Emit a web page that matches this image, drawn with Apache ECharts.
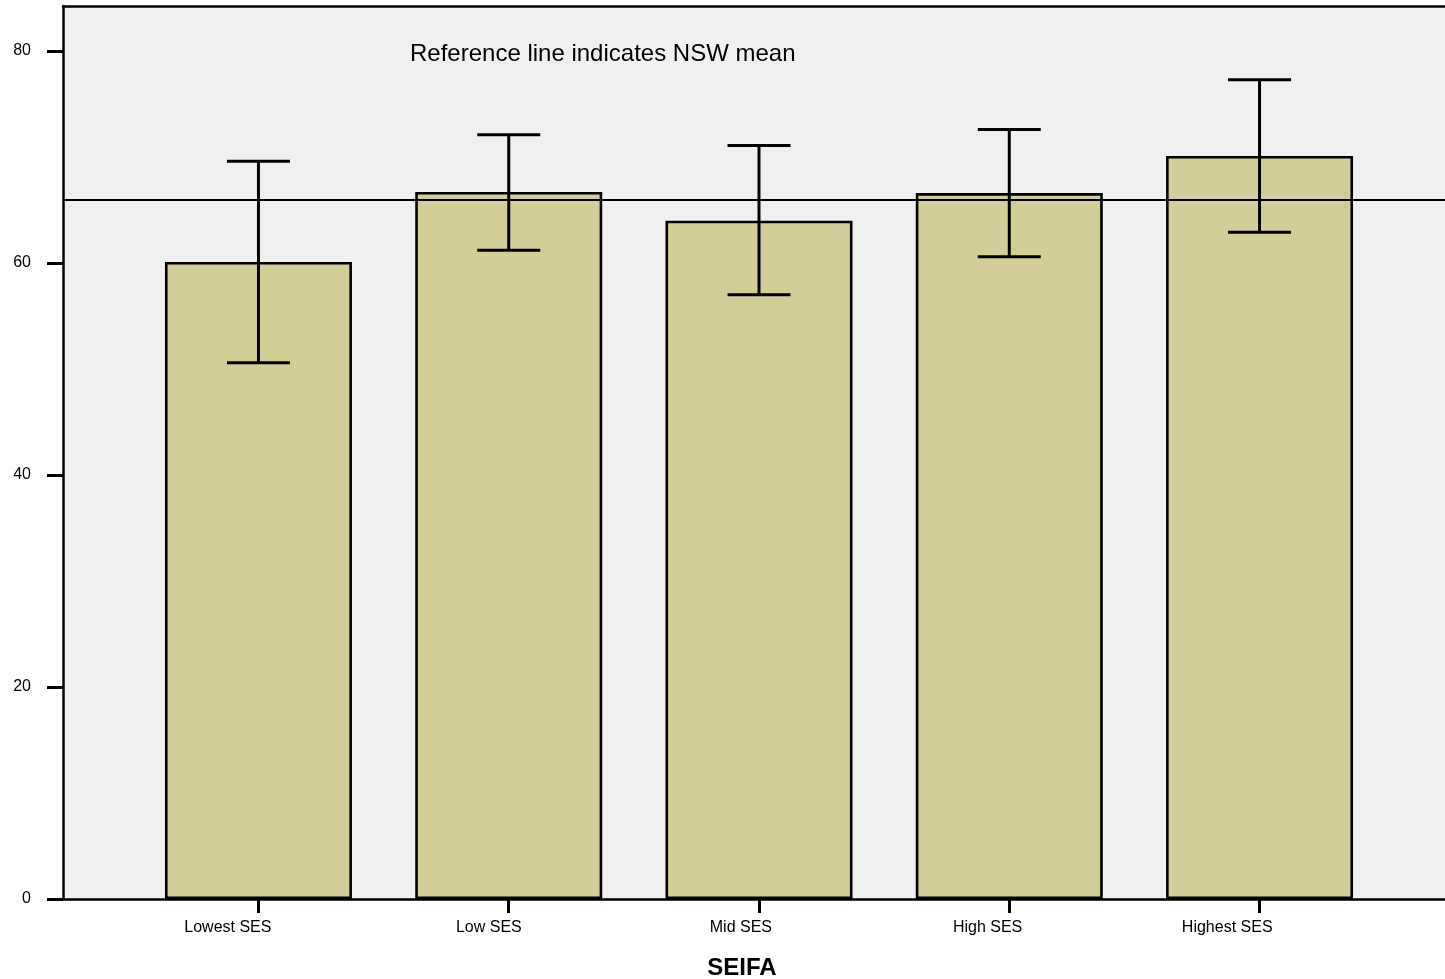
<!DOCTYPE html>
<html>
<head>
<meta charset="utf-8">
<script src="https://cdn.jsdelivr.net/npm/echarts@6/dist/echarts.min.js"></script>
<style>
  html, body { margin: 0; padding: 0; background: #ffffff; }
  #chart { width: 1445px; height: 979px; }
</style>
</head>
<body>
<div id="chart"></div>
<script>
// ---- data ----
const categories = ['Lowest SES', 'Low SES', 'Mid SES', 'High SES', 'Highest SES'];
const means = [60.1, 66.7, 64.0, 66.6, 70.1];
const upperCI = [69.6, 72.1, 71.1, 72.6, 77.3];
const lowerCI = [50.6, 61.2, 57.0, 60.6, 62.9];
const nswMean = 66.0;
const yTicks = [0, 20, 40, 60, 80];
const xAxisTitle = 'SEIFA';
const noteText = 'Reference line indicates NSW mean';

const FONT = "'Liberation Sans', Arial, Helvetica, sans-serif";
const idx = categories.map((c, i) => i);

const chart = echarts.init(document.getElementById('chart'), null, { renderer: 'canvas' });

const X_MIN = -0.781, X_MAX = 4.741;

const option = {
  animation: false,
  backgroundColor: '#ffffff',
  grid: {
    left: 63, right: 0, top: 6, bottom: 80,
    show: true,
    backgroundColor: '#f0f0f0',
    borderWidth: 0
  },
  xAxis: [
    {
      type: 'value',
      min: X_MIN,
      max: X_MAX,
      splitLine: { show: false },
      axisLine: { show: true, onZero: false, lineStyle: { color: '#000', width: 2.5 } },
      axisTick: {
        show: true, customValues: idx, length: 14, inside: false,
        lineStyle: { color: '#000', width: 3 }
      },
      axisLabel: {
        show: true, customValues: idx,
        formatter: v => categories[Math.round(v)] || '',
        fontFamily: FONT, fontSize: 16, color: '#000',
        align: 'right', margin: 21, padding: [0, -13, 0, 0]
      }
    },
    {
      type: 'value',
      position: 'top',
      min: X_MIN,
      max: X_MAX,
      splitLine: { show: false },
      axisLine: { show: true, onZero: false, lineStyle: { color: '#000', width: 2.5 } },
      axisTick: { show: false },
      axisLabel: { show: false }
    }
  ],
  yAxis: {
    type: 'value',
    min: 0,
    max: 84.25,
    interval: 20,
    splitLine: { show: false },
    axisLine: { show: true, onZero: false, lineStyle: { color: '#000', width: 2.5 } },
    axisTick: { show: true, customValues: yTicks, length: 16, lineStyle: { color: '#000', width: 3 } },
    axisLabel: {
      customValues: yTicks,
      fontFamily: FONT, fontSize: 16, color: '#000', margin: 32
    }
  },
  series: [
    {
      type: 'bar',
      xAxisIndex: 0,
      data: means.map((m, i) => [i, m]),
      barWidth: 187,
      itemStyle: { color: '#d3ce98', borderColor: '#000', borderWidth: 2.6 },
      z: 2,
      markLine: {
        silent: true,
        symbol: ['none', 'none'],
        label: { show: false },
        lineStyle: { color: '#000', width: 2, type: 'solid' },
        data: [{ yAxis: nswMean }],
        z: 3
      }
    },
    {
      type: 'custom',
      xAxisIndex: 0,
      z: 5,
      data: idx.map(i => [i, lowerCI[i], upperCI[i]]),
      renderItem: function (params, api) {
        const x = api.value(0);
        const lo = api.coord([x, api.value(1)]);
        const hi = api.coord([x, api.value(2)]);
        const hw = 31.5;
        const style = { stroke: '#000', lineWidth: 3, fill: null };
        return {
          type: 'group',
          children: [
            { type: 'line', shape: { x1: hi[0], y1: hi[1], x2: lo[0], y2: lo[1] }, style: style },
            { type: 'line', shape: { x1: hi[0] - hw, y1: hi[1], x2: hi[0] + hw, y2: hi[1] }, style: style },
            { type: 'line', shape: { x1: lo[0] - hw, y1: lo[1], x2: lo[0] + hw, y2: lo[1] }, style: style }
          ]
        };
      }
    }
  ],
  graphic: [
    {
      type: 'text', left: 410, top: 42, z: 10,
      style: { text: noteText, fontFamily: FONT, fontSize: 24, fill: '#000' }
    },
    {
      type: 'text', x: 742, y: 956, z: 10,
      style: { text: xAxisTitle, fontFamily: FONT, fontSize: 24, fontWeight: 'bold', fill: '#000', align: 'center', verticalAlign: 'top' }
    }
  ]
};

chart.setOption(option);
</script>
</body>
</html>
